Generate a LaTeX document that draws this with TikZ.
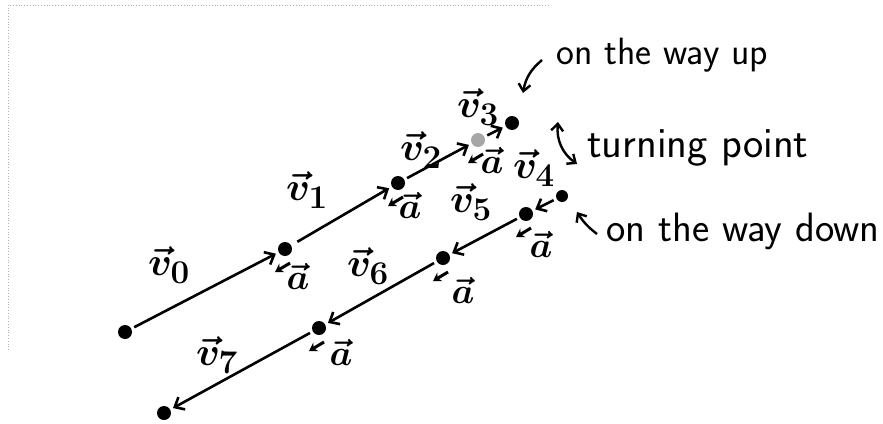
\documentclass[tikz,border=0pt]{standalone}
\usetikzlibrary{arrows.meta}

\begin{document}
\begin{tikzpicture}[x=1pt,y=-1pt,line width=2.6pt,
  dot/.style={circle,fill=black,inner sep=0pt,minimum size=14pt},
  vel/.style={-{Straight Barb[length=8pt,width=14pt]},shorten >=2pt,shorten <=2pt},
  acc/.style={-{Stealth[length=8pt,width=10pt]},line width=3pt},
  vlabel/.style={font=\Huge\boldmath,inner sep=0pt,scale=1.6,transform shape},
  alabel/.style={font=\Huge\boldmath,inner sep=0pt,scale=1.45,transform shape},
  note/.style={font=\sffamily\fontsize{38}{42}\selectfont,anchor=base west,inner sep=0pt},
  notearrow/.style={-{Straight Barb[length=7pt,width=12pt]},line width=2.4pt}]

\useasboundingbox (0,0) rectangle (883,423);

%frame of the scan
\draw[gray!60,line width=0.8pt,dotted] (8,350) |- (548,5);

%positions of the ball:
\node[dot] (p0) at (125,332) {};
\node[dot] (p1) at (285,249) {};
\node[dot] (p2) at (398,183) {};
\node[dot,fill=gray!70] (p3) at (478,140) {};
\node[dot] (top) at (512,123) {};
\node[dot,minimum size=12pt] (p4) at (562,196) {};
\node[dot] (p5) at (526,214) {};
\node[dot] (p6) at (443,258) {};
\node[dot] (p7) at (319,328) {};
\node[dot] (p8) at (164,413) {};

%velocities
\draw[vel] (p0) -- (p1);
\draw[vel,shorten <=6pt] (p1) -- (p2);
\draw[vel] (p2) -- (p3);
\draw[vel] (p3) -- (top);
\draw[vel] (p4) -- (p5);
\draw[vel] (p5) -- (p6);
\draw[vel] (p6) -- (p7);
\draw[vel] (p7) -- (p8);

\node[vlabel] (v0) at (169,265) {$\vec{v}_0$};
\node[vlabel] (v1) at (307,190) {$\vec{v}_1$};
\node[vlabel] (v2) at (421,150) {$\vec{v}_2$};
\node[vlabel] (v3) at (478,107) {$\vec{v}_3$};
\node[vlabel] (v4) at (534,168) {$\vec{v}_4$};
\node[vlabel] (v5) at (471,202) {$\vec{v}_5$};
\node[vlabel] (v6) at (368,266) {$\vec{v}_6$};
\node[vlabel] (v7) at (217,355) {$\vec{v}_7$};

%acceleration, always down the slope
\foreach \p in {p1,p2,p3,p5,p6,p7}
  \draw[acc] ([shift={(5,14)}]\p.center) -- ++(-15,9);

\node[alabel] (a1) at (298,276) {$\vec{a}$};
\node[alabel] (a2) at (410,205) {$\vec{a}$};
\node[alabel] (a3) at (492,160) {$\vec{a}$};
\node[alabel] (a5) at (541,244) {$\vec{a}$};
\node[alabel] (a6) at (463,290) {$\vec{a}$};
\node[alabel] (a7) at (341,352) {$\vec{a}$};

%notes
\node[note] (up) at (555,64) {on the way up};
\node[note,font=\sffamily\fontsize{43}{46}\selectfont] (turn) at (586,157) {turning point};
\node[note,font=\sffamily\fontsize{41}{44}\selectfont] (down) at (605,241) {on the way down};

\coordinate (upA) at (542,60);
\coordinate (upB) at (523,93);
\coordinate (turnA) at (558,122);
\coordinate (turnB) at (577,164);
\coordinate (downA) at (597,234);
\coordinate (downB) at (577,212);
\draw[notearrow] (upA) to[bend right=20] (upB);
\draw[notearrow,{Straight Barb[length=7pt,width=12pt]}-{Straight Barb[length=7pt,width=12pt]}]
  (turnA) to[bend right=30] (turnB);
\draw[notearrow] (downA) to[bend left=10] (downB);
\end{tikzpicture}
\end{document}
